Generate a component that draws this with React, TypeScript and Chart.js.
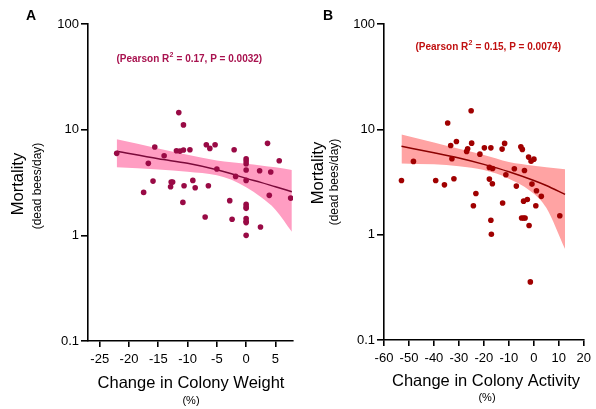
import React, { useEffect, useRef } from 'react';
import { Chart, registerables } from 'chart.js';

Chart.register(...registerables);

const FONT = '"Liberation Sans", Arial, Helvetica, sans-serif';

// ---------- Data: Panel A (Change in colony weight) ----------
const weightChange = [
  -22.1, -11.5, -10.7, -15.6, -16.7, -14.0, -11.9, -11.3, -10.7, -9.6,
  -6.8, -6.2, -5.3, -2.05, 0, 0, 0, 3.65, 5.65, -5.0,
  0, 2.3, 4.2, -1.8, 0, -15.9, -12.8, -12.55, -12.9, -10.6,
  -9.1, -8.7, -6.45, -17.5, -10.8, -2.8, 3.95, 7.6, 0, 0,
  0, -7.0, -2.4, 0, 0, 0, 2.45, 0,
];
const weightMortality = [
  5.97, 14.5, 11.1, 6.85, 4.8, 5.66, 6.32, 6.27, 6.42, 6.45,
  7.2, 6.65, 7.2, 6.45, 5.3, 5.05, 4.76, 7.42, 5.08, 4.24,
  4.15, 4.08, 3.97, 3.61, 3.31, 3.26, 3.19, 3.19, 2.88, 2.95,
  3.31, 2.82, 2.95, 2.55, 2.05, 2.13, 2.39, 2.25, 1.97, 1.86,
  1.8, 1.49, 1.42, 1.44, 1.36, 1.32, 1.2, 1.0,
];
const weightFitX = [-22.1, -15, -10, -5, -2.5, 0, 2.5, 5, 7.8];
const weightFitLine = [6.25, 5.3, 4.8, 4.17, 3.82, 3.46, 3.17, 2.88, 2.59];
const weightFitUpper = [8.1, 6.65, 5.79, 5.12, 4.92, 4.76, 4.58, 4.4, 4.15];
const weightFitLower = [4.4, 4.2, 4.0, 3.7, 3.35, 2.85, 2.3, 1.75, 1.08];
const weightTicks = [-25, -20, -15, -10, -5, 0, 5];

// ---------- Data: Panel B (Change in colony activity) ----------
const activityChange = [
  -53.0, -48.2, -39.3, -35.8, -34.5, -33.3, -32.8, -32.0, -31.0, -26.9,
  -26.5, -25.1, -24.9, -21.6, -19.8, -17.2, -23.2, -24.2, -17.8, -16.5,
  -17.8, -16.6, -12.5, -17.2, -17.0, -12.7, -11.7, -11.2, -7.8, -7.0,
  -5.2, -4.6, -3.75, -2.1, -1.1, 0.04, -0.75, 1.06, 3.0, -4.1,
  -2.6, 0.8, -4.9, -4.1, -3.5, -1.9, 10.4, -1.4,
];
const activityMortality = [
  3.27, 4.96, 3.27, 2.97, 11.5, 7.03, 5.25, 3.39, 7.67, 6.17,
  6.53, 15.0, 7.39, 5.81, 6.67, 6.67, 2.46, 1.88, 4.35, 4.25,
  3.37, 3.04, 2.0, 1.37, 1.01, 6.49, 7.35, 3.7, 4.22, 2.89,
  6.82, 6.45, 4.07, 5.45, 4.99, 5.21, 3.02, 2.61, 2.31, 2.08,
  2.16, 1.88, 1.44, 1.44, 1.44, 1.22, 1.51, 0.356,
];
const activityFitX = [-53, -40, -30, -20, -10, 0, 5, 12.5];
const activityFitLine = [6.9, 6.0, 5.34, 4.65, 3.96, 3.27, 2.93, 2.41];
const activityFitUpper = [8.95, 7.5, 6.53, 5.7, 4.9, 4.52, 4.37, 4.19];
const activityFitLower = [4.75, 4.65, 4.45, 4.1, 3.4, 2.45, 1.8, 0.73];
const activityTicks = [-60, -50, -40, -30, -20, -10, 0, 10, 20];

// ---------- Shared y axis ----------
const mortalityTicks = [0.1, 1, 10, 100];
const mortalityTickLabels = ['0.1', '1', '10', '100'];

type PanelCfg = {
  canvasLeft: number;
  width: number;
  areaLeft: number;
  areaRight: number;
  areaTop: number;
  areaBottom: number;
  xMin: number;
  xMax: number;
  xTicks: number[];
  xs: number[];
  ys: number[];
  fitX: number[];
  fitLine: number[];
  fitUpper: number[];
  fitLower: number[];
  dotColor: string;
  lineColor: string;
  bandColor: string;
  textColor: string;
  letter: string;
  letterPos: [number, number];
  r2: string;
  p: string;
  pearsonPos: [number, number];
  yTitlePos: [number, number];
  ySubPos: [number, number];
  xTitle: string;
  xTitlePos: [number, number];
  xSubPos: [number, number];
};

const H = 409;
const TICK_COLOR = '#000';

function zip(xs: number[], ys: number[]) {
  return xs.map((x, i) => ({ x, y: ys[i] }));
}

function makeTextPlugin(cfg: PanelCfg) {
  return {
    id: 'extraText' + cfg.letter,
    afterDraw(chart: any) {
      const ctx = chart.ctx as CanvasRenderingContext2D;
      const ox = cfg.canvasLeft;
      ctx.save();
      ctx.fillStyle = '#000';
      ctx.textBaseline = 'middle';
      ctx.font = `bold 14px ${FONT}`;
      ctx.textAlign = 'center';
      ctx.fillText(cfg.letter, cfg.letterPos[0] - ox, cfg.letterPos[1]);
      ctx.font = `16.5px ${FONT}`;
      ctx.fillText(cfg.xTitle, cfg.xTitlePos[0] - ox, cfg.xTitlePos[1]);
      ctx.font = `11px ${FONT}`;
      ctx.fillText('(%)', cfg.xSubPos[0] - ox, cfg.xSubPos[1]);
      ctx.save();
      ctx.translate(cfg.yTitlePos[0] - ox, cfg.yTitlePos[1]);
      ctx.rotate(-Math.PI / 2);
      ctx.font = `16.5px ${FONT}`;
      ctx.fillText('Mortality', 0, 0);
      ctx.restore();
      ctx.save();
      ctx.translate(cfg.ySubPos[0] - ox, cfg.ySubPos[1]);
      ctx.rotate(-Math.PI / 2);
      ctx.font = `12px ${FONT}`;
      ctx.fillText('(dead bees/day)', 0, 0);
      ctx.restore();
      const part1 = '(Pearson R';
      const sup = '2';
      const part2 = ` = ${cfg.r2}, P = ${cfg.p})`;
      const mainFont = `bold 10px ${FONT}`;
      const supFont = `bold 7px ${FONT}`;
      ctx.font = mainFont;
      const w1 = ctx.measureText(part1).width;
      const w3 = ctx.measureText(part2).width;
      ctx.font = supFont;
      const w2 = ctx.measureText(sup).width;
      const total = w1 + w2 + w3;
      let x = cfg.pearsonPos[0] - ox - total / 2;
      const y = cfg.pearsonPos[1];
      ctx.fillStyle = cfg.textColor;
      ctx.textAlign = 'left';
      ctx.font = mainFont;
      ctx.fillText(part1, x, y);
      x += w1;
      ctx.font = supFont;
      ctx.fillText(sup, x + 0.3, y - 4);
      x += w2 + 0.6;
      ctx.font = mainFont;
      ctx.fillText(part2, x, y);
      ctx.restore();
    },
  };
}

function Panel({ cfg }: { cfg: PanelCfg }) {
  const ref = useRef<HTMLCanvasElement | null>(null);
  useEffect(() => {
    if (!ref.current) return;
    const yAxisWidth = cfg.areaLeft - cfg.canvasLeft;
    const xAxisHeight = H - cfg.areaBottom;
    const padRight = cfg.canvasLeft + cfg.width - cfg.areaRight;
    const chart = new Chart(ref.current, {
      type: 'line',
      data: {
        datasets: [
          {
            label: 'points',
            data: zip(cfg.xs, cfg.ys),
            showLine: false,
            pointRadius: 2.8,
            pointHoverRadius: 2.8,
            pointBorderWidth: 0,
            pointBackgroundColor: cfg.dotColor,
            pointBorderColor: cfg.dotColor,
            order: 0,
          },
          {
            label: 'fit',
            data: zip(cfg.fitX, cfg.fitLine),
            borderColor: cfg.lineColor,
            borderWidth: 1.5,
            pointRadius: 0,
            fill: false,
            cubicInterpolationMode: 'monotone',
            order: 1,
          },
          {
            label: 'upper',
            data: zip(cfg.fitX, cfg.fitUpper),
            borderWidth: 0,
            borderColor: 'rgba(0,0,0,0)',
            backgroundColor: cfg.bandColor,
            pointRadius: 0,
            fill: '+1',
            cubicInterpolationMode: 'monotone',
            order: 2,
          },
          {
            label: 'lower',
            data: zip(cfg.fitX, cfg.fitLower),
            borderWidth: 0,
            borderColor: 'rgba(0,0,0,0)',
            backgroundColor: cfg.bandColor,
            pointRadius: 0,
            fill: false,
            cubicInterpolationMode: 'monotone',
            order: 3,
          },
        ],
      } as any,
      options: {
        animation: false,
        responsive: false,
        devicePixelRatio: 1,
        events: [],
        layout: {
          padding: { left: 0, top: cfg.areaTop, right: padRight, bottom: 0 },
        },
        plugins: {
          legend: { display: false },
          tooltip: { enabled: false },
          title: { display: false },
        },
        scales: {
          x: {
            type: 'linear',
            min: cfg.xMin,
            max: cfg.xMax,
            afterBuildTicks: (s: any) => {
              s.ticks = cfg.xTicks.map((v) => ({ value: v }));
            },
            afterFit: (s: any) => {
              s.height = xAxisHeight;
            },
            grid: {
              display: true,
              drawOnChartArea: false,
              drawTicks: true,
              tickLength: 6,
              tickColor: TICK_COLOR,
              tickWidth: 1.6,
              color: TICK_COLOR,
              lineWidth: 1.6,
            },
            border: { display: true, color: '#000', width: 1.6 },
            ticks: {
              color: '#000',
              font: { family: FONT, size: 13 },
              padding: 5,
              maxRotation: 0,
              autoSkip: false,
              callback: (v: any) => String(v),
            },
          },
          y: {
            type: 'logarithmic',
            min: 0.1,
            max: 100,
            afterBuildTicks: (s: any) => {
              s.ticks = mortalityTicks.map((v) => ({ value: v }));
            },
            afterFit: (s: any) => {
              s.width = yAxisWidth;
            },
            grid: {
              display: true,
              drawOnChartArea: false,
              drawTicks: true,
              tickLength: 7,
              tickColor: TICK_COLOR,
              tickWidth: 1.6,
              color: TICK_COLOR,
              lineWidth: 1.6,
            },
            border: { display: true, color: '#000', width: 1.6 },
            ticks: {
              color: '#000',
              font: { family: FONT, size: 13 },
              padding: 2,
              autoSkip: false,
              callback: (_v: any, i: number) => mortalityTickLabels[i],
            },
          },
        },
      } as any,
      plugins: [makeTextPlugin(cfg)],
    });
    return () => chart.destroy();
  }, [cfg]);
  return (
    <canvas
      ref={ref}
      width={cfg.width}
      height={H}
      style={{ position: 'absolute', left: cfg.canvasLeft, top: 0, width: cfg.width, height: H }}
    />
  );
}

const panelA: PanelCfg = {
  canvasLeft: 0,
  width: 298,
  areaLeft: 88,
  areaRight: 293,
  areaTop: 24,
  areaBottom: 341,
  xMin: -27,
  xMax: 8,
  xTicks: weightTicks,
  xs: weightChange,
  ys: weightMortality,
  fitX: weightFitX,
  fitLine: weightFitLine,
  fitUpper: weightFitUpper,
  fitLower: weightFitLower,
  dotColor: '#990a45',
  lineColor: '#7a0a3a',
  bandColor: '#ff9dc2',
  textColor: '#a8124f',
  letter: 'A',
  letterPos: [31, 16],
  r2: '0.17',
  p: '0.0032',
  pearsonPos: [189, 59],
  yTitlePos: [18, 184],
  ySubPos: [38, 186],
  xTitle: 'Change in Colony Weight',
  xTitlePos: [191, 383],
  xSubPos: [191, 401],
};

const panelB: PanelCfg = {
  canvasLeft: 298,
  width: 298,
  areaLeft: 384,
  areaRight: 589,
  areaTop: 24,
  areaBottom: 340,
  xMin: -60,
  xMax: 20,
  xTicks: activityTicks,
  xs: activityChange,
  ys: activityMortality,
  fitX: activityFitX,
  fitLine: activityFitLine,
  fitUpper: activityFitUpper,
  fitLower: activityFitLower,
  dotColor: '#a00000',
  lineColor: '#8b0000',
  bandColor: '#ffa3a3',
  textColor: '#c01010',
  letter: 'B',
  letterPos: [328, 16],
  r2: '0.15',
  p: '0.0074',
  pearsonPos: [488, 47],
  yTitlePos: [318, 173],
  ySubPos: [335, 182],
  xTitle: 'Change in Colony Activity',
  xTitlePos: [486, 381],
  xSubPos: [487, 398],
};

export default function App() {
  return (
    <div style={{ position: 'absolute', left: 0, top: 0, width: 596, height: H, background: '#fff' }}>
      <Panel cfg={panelA} />
      <Panel cfg={panelB} />
    </div>
  );
}
